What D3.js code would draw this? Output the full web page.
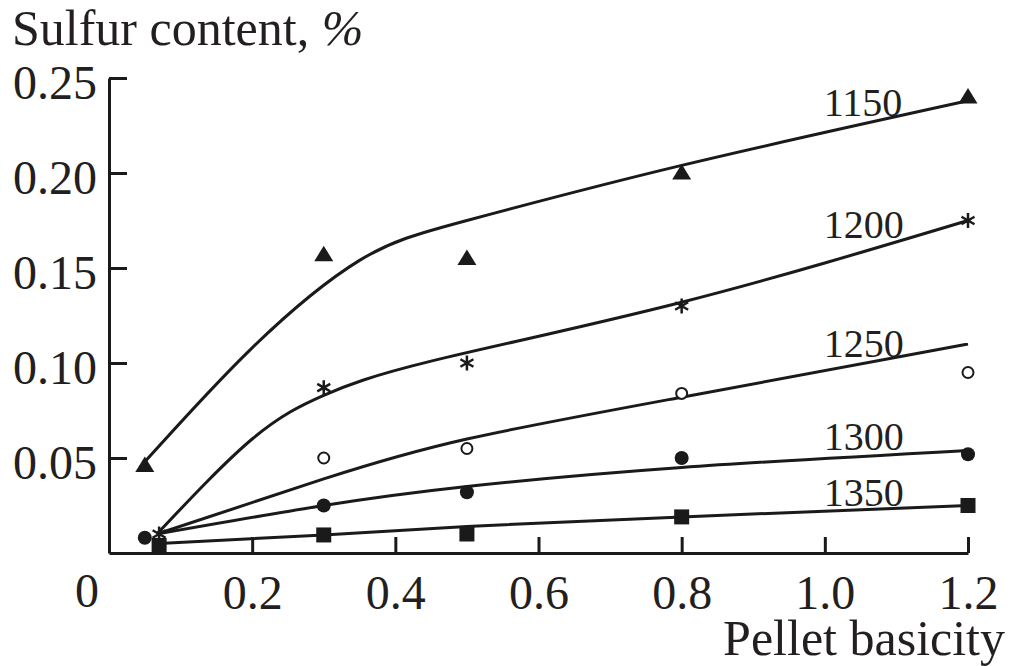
<!DOCTYPE html>
<html>
<head>
<meta charset="utf-8">
<script src="https://cdn.jsdelivr.net/npm/d3@7"></script>
<style>
  html, body { margin: 0; padding: 0; background: #fff; }
  svg { display: block; }
  text { font-family: "Liberation Serif", "DejaVu Serif", serif; fill: #231f20; }
</style>
</head>
<body>
<div class="canvas"></div>
<script>
// data
const temps = ['1150', '1200', '1250', '1300', '1350']

// measured points (basicity, sulfur %)
const pts1150 = [[0.05, 0.046], [0.3, 0.157], [0.5, 0.155], [0.8, 0.200], [1.2, 0.240]]
const pts1200 = [[0.07, 0.010], [0.3, 0.087], [0.5, 0.100], [0.8, 0.130], [1.2, 0.175]]
const pts1250 = [[0.3, 0.050], [0.5, 0.055], [0.8, 0.084], [1.2, 0.095]]
const pts1300 = [[0.05, 0.008], [0.3, 0.025], [0.5, 0.032], [0.8, 0.050], [1.2, 0.052]]
const pts1350 = [[0.07, 0.004], [0.3, 0.0095], [0.5, 0.010], [0.8, 0.019], [1.2, 0.025]]

// fitted curves
const fit1150 = [[0.05, 0.048], [0.2, 0.108], [0.35, 0.154], [0.5, 0.175], [0.8, 0.204], [1.2, 0.238]]
const fit1200 = [[0.067, 0.010], [0.2, 0.060], [0.3, 0.083], [0.45, 0.101], [0.8, 0.132], [1.2, 0.175]]
const fit1250 = [[0.067, 0.010], [0.3, 0.039], [0.5, 0.060], [0.8, 0.082], [1.2, 0.110]]
const fit1300 = [[0.067, 0.010], [0.3, 0.025], [0.5, 0.035], [0.8, 0.045], [1.2, 0.054]]
const fit1350 = [[0.07, 0.005], [0.3, 0.0095], [0.5, 0.014], [0.8, 0.019], [1.2, 0.025]]

// curve label anchors (x, y in data units)
const labelPos = [[1.0, 0.230], [1.0, 0.166], [1.0, 0.103], [1.0, 0.054], [1.0, 0.025]]

const xTicks = [0.2, 0.4, 0.6, 0.8, 1.0, 1.2]
const yTicks = [0.05, 0.10, 0.15, 0.20, 0.25]

const series = [
  { name: temps[0], pts: pts1150, fit: fit1150, marker: 'triangle' },
  { name: temps[1], pts: pts1200, fit: fit1200, marker: 'asterisk' },
  { name: temps[2], pts: pts1250, fit: fit1250, marker: 'open' },
  { name: temps[3], pts: pts1300, fit: fit1300, marker: 'dot' },
  { name: temps[4], pts: pts1350, fit: fit1350, marker: 'square' }
]

const ink = '#1a1a1a'
const dims = { width: 1011, height: 666 }

const svg = d3.select('.canvas')
  .append('svg')
  .attr('width', dims.width)
  .attr('height', dims.height)

const x = d3.scaleLinear().domain([0, 1.2]).range([109, 968])
const y = d3.scaleLinear().domain([0, 0.25]).range([553, 78])

// axes
const xAxis = d3.axisBottom(x)
  .tickValues(xTicks)
  .tickFormat(d3.format('.1f'))
  .tickSizeInner(-16)
  .tickSizeOuter(0)
  .tickPadding(22)

const yAxis = d3.axisLeft(y)
  .tickValues(yTicks)
  .tickFormat(d3.format('.2f'))
  .tickSizeInner(-18)
  .tickSizeOuter(0)
  .tickPadding(12)

const gx = svg.append('g')
  .attr('transform', `translate(0, ${y(0)})`)
  .call(xAxis)

const gy = svg.append('g')
  .attr('transform', `translate(${x(0)}, 0)`)
  .call(yAxis)

svg.selectAll('.domain, .tick line')
  .attr('stroke', ink)
  .attr('stroke-width', 3)

gx.selectAll('text').attr('font-size', 48).attr('fill', '#231f20').attr('font-family', null)
gy.selectAll('text').attr('font-size', 48).attr('fill', '#231f20').attr('font-family', null)
  .attr('dy', '0.42em')

svg.append('text')
  .attr('x', 87)
  .attr('y', 607)
  .attr('text-anchor', 'middle')
  .attr('font-size', 48)
  .text('0')

// axis titles
const title = svg.append('text')
  .attr('x', 12)
  .attr('y', 45)
  .attr('font-size', 50)
title.append('tspan').text('Sulfur content, ')
title.append('tspan').attr('font-style', 'italic').text('%')

svg.append('text')
  .attr('x', 1005)
  .attr('y', 655)
  .attr('text-anchor', 'end')
  .attr('font-size', 50)
  .text('Pellet basicity')

// fitted curves
const line = d3.line()
  .x(d => x(d[0]))
  .y(d => y(d[1]))
  .curve(d3.curveNatural)

const graph = svg.append('g')

graph.selectAll('path.fit')
  .data(series)
  .enter()
  .append('path')
    .attr('class', 'fit')
    .attr('d', d => line(d.fit))
    .attr('fill', 'none')
    .attr('stroke', ink)
    .attr('stroke-width', 3)
    .attr('stroke-linejoin', 'round')

// markers
const drawMarker = (g, type) => {
  if (type === 'triangle') {
    g.append('path').attr('d', 'M0,-9L9.5,6.5L-9.5,6.5Z').attr('fill', ink)
  } else if (type === 'dot') {
    g.append('circle').attr('r', 7).attr('fill', ink)
  } else if (type === 'open') {
    g.append('circle').attr('r', 5.5).attr('fill', '#fff')
      .attr('stroke', ink).attr('stroke-width', 2)
  } else if (type === 'square') {
    g.append('rect').attr('x', -7.5).attr('y', -7.5)
      .attr('width', 15).attr('height', 15).attr('fill', ink)
  } else if (type === 'asterisk') {
    const r = 7.5
    const a = r * Math.cos(Math.PI / 6), b = r * Math.sin(Math.PI / 6)
    g.append('path')
      .attr('d', `M0,${-r}V${r}M${-a},${-b}L${a},${b}M${-a},${b}L${a},${-b}`)
      .attr('stroke', ink).attr('stroke-width', 2.5).attr('fill', 'none')
  }
}

series.forEach(s => {
  graph.selectAll(null)
    .data(s.pts)
    .enter()
    .append('g')
      .attr('transform', d => `translate(${x(d[0])}, ${y(d[1])})`)
      .each(function() { drawMarker(d3.select(this), s.marker) })
})

// curve labels
svg.selectAll('text.curve-label')
  .data(series)
  .enter()
  .append('text')
    .attr('class', 'curve-label')
    .attr('x', (d, i) => x(labelPos[i][0]) - 1)
    .attr('y', (d, i) => y(labelPos[i][1]))
    .attr('font-size', 40)
    .text(d => d.name)
</script>
</body>
</html>
